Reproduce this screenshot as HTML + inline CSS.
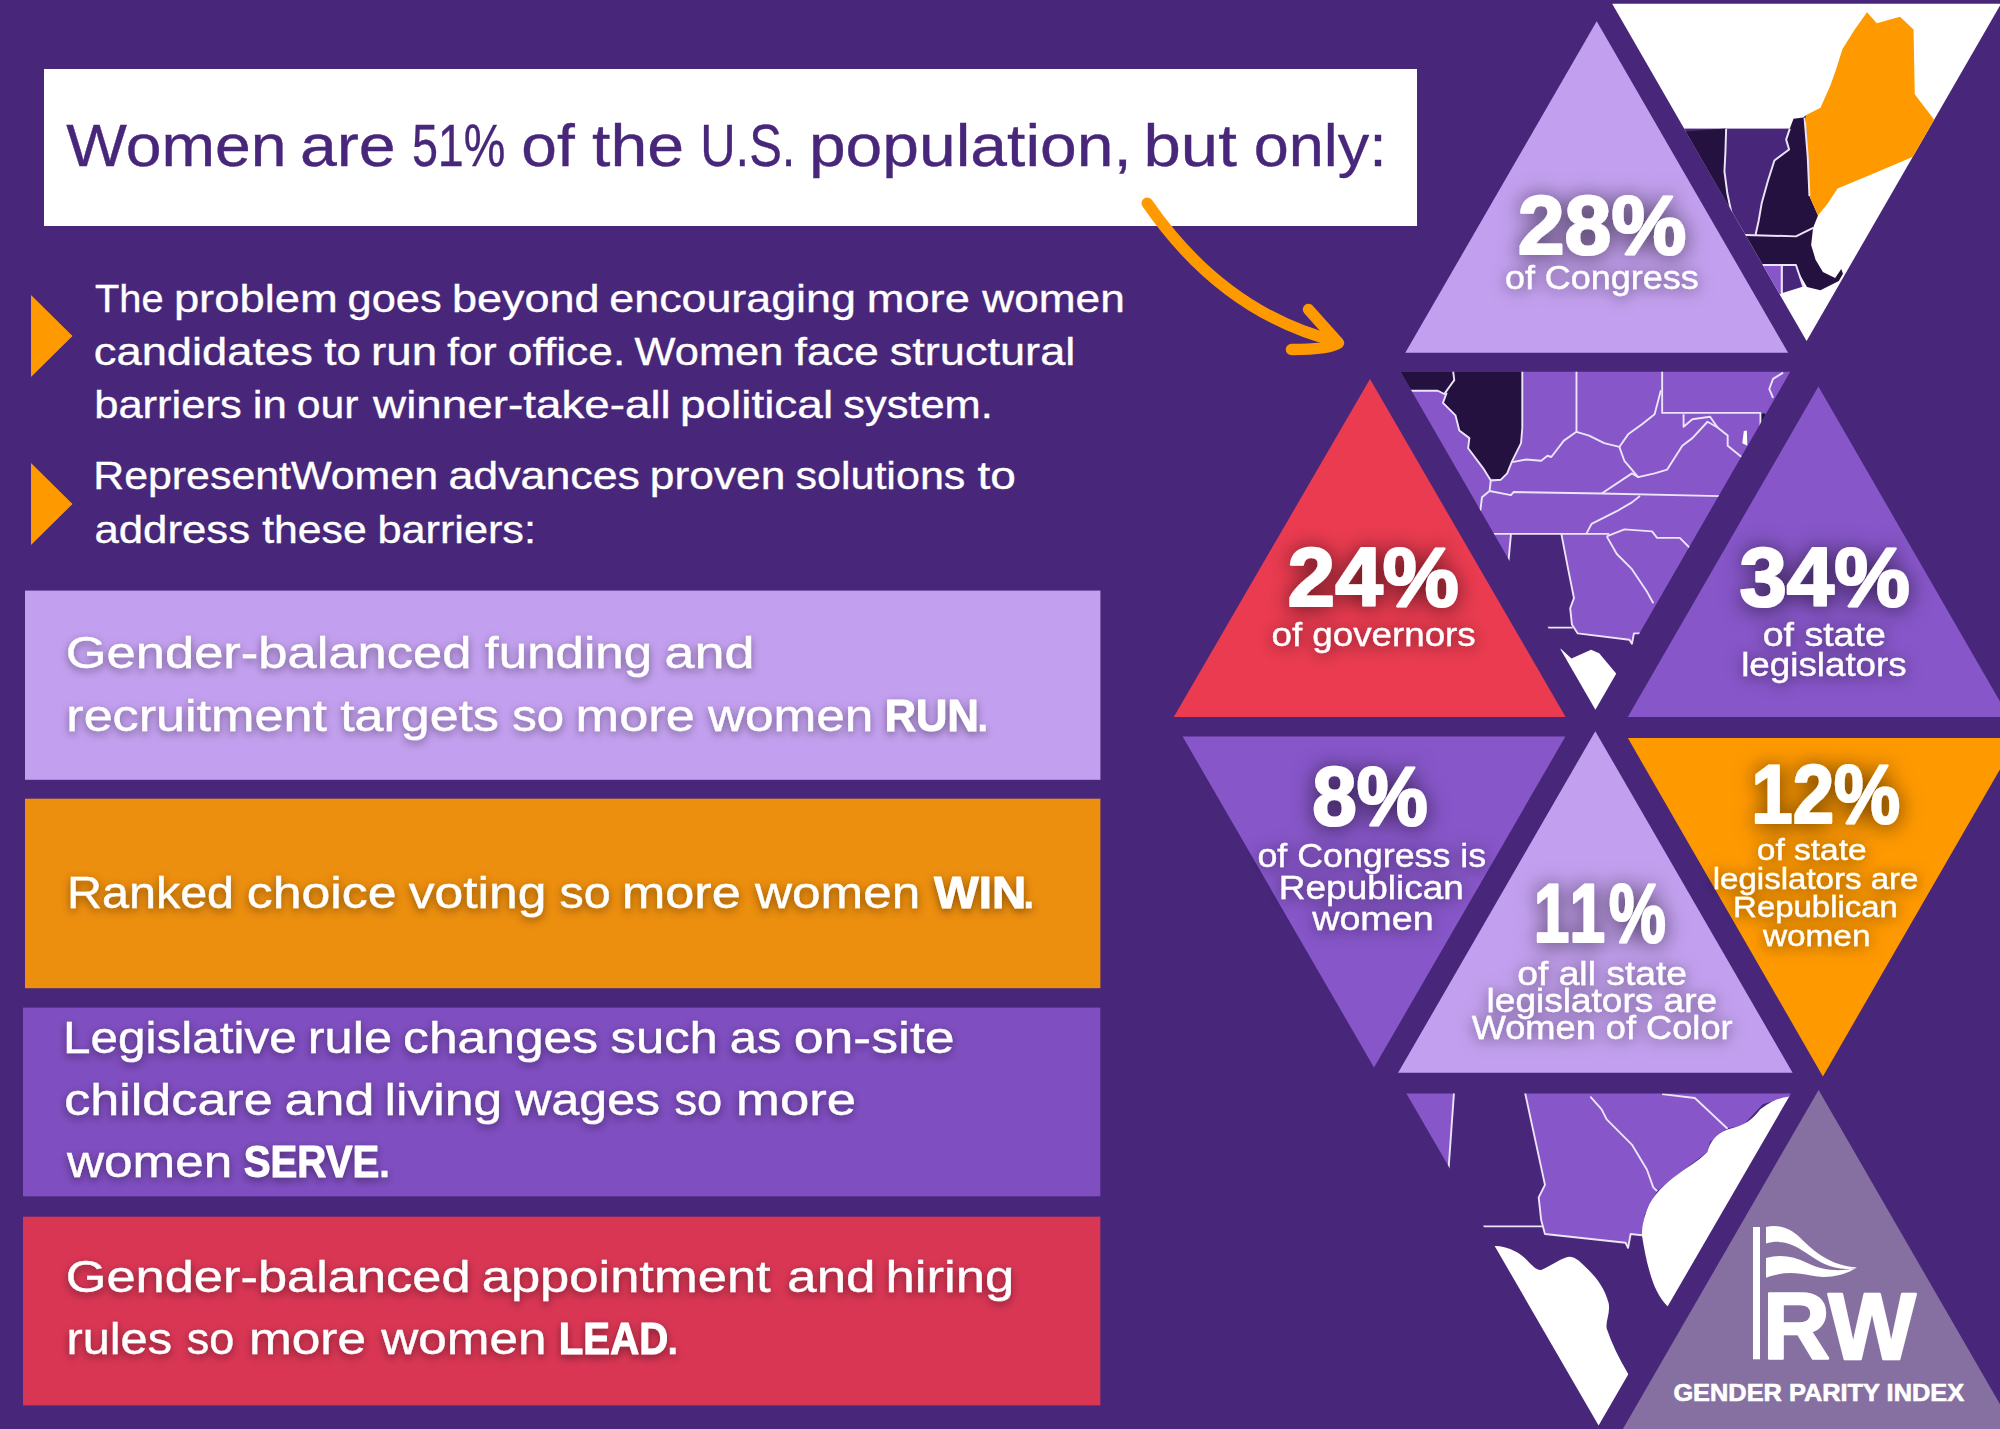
<!DOCTYPE html>
<html lang="en">
<head>
<meta charset="utf-8">
<title>Women are 51% of the U.S. population</title>
<style>
html,body{margin:0;padding:0;background:#48277b;}
body{width:2000px;height:1429px;overflow:hidden;}
svg{display:block;}
text{font-family:"Liberation Sans",sans-serif;color:#fff;fill:currentColor;stroke:currentColor;stroke-width:.35px;}
#title text{color:#48277b;}
.b{font-weight:bold;stroke:currentColor;stroke-linejoin:round;}
.n text{stroke-width:2.2px;}
.w{stroke-width:1;}
</style>
</head>
<body>
<svg width="2000" height="1429" viewBox="0 0 2000 1429">
<defs>
<filter id="sh" x="-5%" y="-30%" width="110%" height="170%"><feDropShadow dx="0" dy="3" stdDeviation="4.2" flood-color="#000" flood-opacity=".42"/></filter>
<filter id="glow" x="-25%" y="-40%" width="150%" height="190%"><feDropShadow dx="0" dy="2" stdDeviation="11" flood-color="#000" flood-opacity=".66"/></filter>
<filter id="glow2" x="-15%" y="-40%" width="130%" height="190%"><feDropShadow dx="0" dy="2" stdDeviation="8" flood-color="#000" flood-opacity=".55"/></filter>
<clipPath id="cTop"><polygon points="1612.2,3.7 2001,3.7 1806.6,341"/></clipPath>
<clipPath id="cMid"><polygon points="1400.6,371.8 1790.2,371.8 1595.4,709.8"/></clipPath>
<clipPath id="cBot"><polygon points="1406.4,1093.4 1791,1093.4 1598.6,1425.6"/></clipPath>
</defs>
<rect width="2000" height="1429" fill="#48277b"/>

<!-- title -->
<rect x="44" y="69" width="1373" height="157" fill="#fff"/>
<g id="title" font-size="59">
<text id="t1" x="66.2" y="165.6" textLength="220.2" lengthAdjust="spacingAndGlyphs">Women</text>
<text id="t2" x="299.9" y="165.6" textLength="95.8" lengthAdjust="spacingAndGlyphs">are</text>
<text id="t3" x="411.9" y="165.6" textLength="93.5" lengthAdjust="spacingAndGlyphs">51%</text>
<text id="t4" x="521.3" y="165.6" textLength="53.4" lengthAdjust="spacingAndGlyphs">of</text>
<text id="t5" x="592.1" y="165.6" textLength="92.0" lengthAdjust="spacingAndGlyphs">the</text>
<text id="t6" x="700.2" y="165.6" textLength="95.2" lengthAdjust="spacingAndGlyphs">U.S.</text>
<text id="t7" x="808.9" y="165.6" textLength="322.9" lengthAdjust="spacingAndGlyphs">population,</text>
<text id="t8" x="1143.5" y="165.6" textLength="93.3" lengthAdjust="spacingAndGlyphs">but</text>
<text id="t9" x="1253.7" y="165.6" textLength="133.0" lengthAdjust="spacingAndGlyphs">only:</text>
</g>

<!-- arrow -->
<g fill="none" stroke="#ff9900" stroke-width="11.5" stroke-linecap="round" stroke-linejoin="round">
<path d="M1147.3,203.3 Q1223.3,313.3 1337,341.5"/>
<path d="M1308.5,309.5 L1338.5,343 Q1330,349.5 1291.5,349.5"/>
</g>

<!-- bullets -->
<polygon points="31,295 72.5,336 31,377" fill="#ff9900"/>
<polygon points="31,463 72.5,504 31,545" fill="#ff9900"/>
<g font-size="39.7">
<text id="p1l1w1" x="95.0" y="312" textLength="68.5" lengthAdjust="spacingAndGlyphs">The</text>
<text id="p1l1w2" x="173.9" y="312" textLength="163.9" lengthAdjust="spacingAndGlyphs">problem</text>
<text id="p1l1w3" x="347.6" y="312" textLength="94.1" lengthAdjust="spacingAndGlyphs">goes</text>
<text id="p1l1w4" x="451.9" y="312" textLength="147.6" lengthAdjust="spacingAndGlyphs">beyond</text>
<text id="p1l1w5" x="609.3" y="312" textLength="246.6" lengthAdjust="spacingAndGlyphs">encouraging</text>
<text id="p1l1w6" x="866.8" y="312" textLength="103.0" lengthAdjust="spacingAndGlyphs">more</text>
<text id="p1l1w7" x="982.2" y="312" textLength="142.6" lengthAdjust="spacingAndGlyphs">women</text>
<text id="p1l2w1" x="93.8" y="364.8" textLength="219.1" lengthAdjust="spacingAndGlyphs">candidates</text>
<text id="p1l2w2" x="324.3" y="364.8" textLength="36.7" lengthAdjust="spacingAndGlyphs">to</text>
<text id="p1l2w3" x="371.1" y="364.8" textLength="66.0" lengthAdjust="spacingAndGlyphs">run</text>
<text id="p1l2w4" x="447.3" y="364.8" textLength="49.3" lengthAdjust="spacingAndGlyphs">for</text>
<text id="p1l2w5" x="507.8" y="364.8" textLength="117.4" lengthAdjust="spacingAndGlyphs">office.</text>
<text id="p1l2w6" x="634.6" y="364.8" textLength="148.8" lengthAdjust="spacingAndGlyphs">Women</text>
<text id="p1l2w7" x="794.5" y="364.8" textLength="84.4" lengthAdjust="spacingAndGlyphs">face</text>
<text id="p1l2w8" x="889.7" y="364.8" textLength="185.6" lengthAdjust="spacingAndGlyphs">structural</text>
<text id="p1l3w1" x="94.2" y="417.7" textLength="147.6" lengthAdjust="spacingAndGlyphs">barriers</text>
<text id="p1l3w2" x="252.7" y="417.7" textLength="34.1" lengthAdjust="spacingAndGlyphs">in</text>
<text id="p1l3w3" x="296.7" y="417.7" textLength="61.7" lengthAdjust="spacingAndGlyphs">our</text>
<text id="p1l3w4" x="373.1" y="417.7" textLength="297.7" lengthAdjust="spacingAndGlyphs">winner-take-all</text>
<text id="p1l3w5" x="679.9" y="417.7" textLength="153.2" lengthAdjust="spacingAndGlyphs">political</text>
<text id="p1l3w6" x="843.2" y="417.7" textLength="149.7" lengthAdjust="spacingAndGlyphs">system.</text>
<text id="p2l1w1" x="93.2" y="489" textLength="344.8" lengthAdjust="spacingAndGlyphs">RepresentWomen</text>
<text id="p2l1w2" x="448.4" y="489" textLength="191.6" lengthAdjust="spacingAndGlyphs">advances</text>
<text id="p2l1w3" x="649.8" y="489" textLength="135.6" lengthAdjust="spacingAndGlyphs">proven</text>
<text id="p2l1w4" x="795.4" y="489" textLength="170.0" lengthAdjust="spacingAndGlyphs">solutions</text>
<text id="p2l1w5" x="977.5" y="489" textLength="38.4" lengthAdjust="spacingAndGlyphs">to</text>
<text id="p2l2w1" x="94.4" y="542.8" textLength="155.7" lengthAdjust="spacingAndGlyphs">address</text>
<text id="p2l2w2" x="262.2" y="542.8" textLength="104.6" lengthAdjust="spacingAndGlyphs">these</text>
<text id="p2l2w3" x="377.4" y="542.8" textLength="158.6" lengthAdjust="spacingAndGlyphs">barriers:</text>
</g>

<!-- boxes -->
<rect x="25" y="590.6" width="1075.4" height="189.2" fill="#c3a0ef"/>
<rect x="25" y="798.7" width="1075.4" height="189.5" fill="#ec8e0e"/>
<rect x="23" y="1007.6" width="1077.3" height="188.7" fill="#7f4ec0"/>
<rect x="23" y="1216.7" width="1077.3" height="188.7" fill="#d93654"/>

<g font-size="45" filter="url(#sh)">
<text id="b1l1w1" x="65.7" y="668.2" textLength="405.8" lengthAdjust="spacingAndGlyphs">Gender-balanced</text>
<text id="b1l1w2" x="484.6" y="668.2" textLength="167.5" lengthAdjust="spacingAndGlyphs">funding</text>
<text id="b1l1w3" x="664.6" y="668.2" textLength="90.0" lengthAdjust="spacingAndGlyphs">and</text>
<text id="b1l2w1" x="66.3" y="730.5" textLength="260.6" lengthAdjust="spacingAndGlyphs">recruitment</text>
<text id="b1l2w2" x="340.2" y="730.5" textLength="158.8" lengthAdjust="spacingAndGlyphs">targets</text>
<text id="b1l2w3" x="512.3" y="730.5" textLength="51.9" lengthAdjust="spacingAndGlyphs">so</text>
<text id="b1l2w4" x="575.6" y="730.5" textLength="119.2" lengthAdjust="spacingAndGlyphs">more</text>
<text id="b1l2w5" x="707.9" y="730.5" textLength="165.4" lengthAdjust="spacingAndGlyphs">women</text>
<text id="b1l2w6" class="b w" x="884.8" y="730.5" textLength="93.9" lengthAdjust="spacingAndGlyphs">RUN</text>
<text id="b1l2w7" font-size="56" x="975.0" y="730.5">.</text>
<text id="b2l1w1" x="66.9" y="907.5" textLength="167.2" lengthAdjust="spacingAndGlyphs">Ranked</text>
<text id="b2l1w2" x="246.8" y="907.5" textLength="149.7" lengthAdjust="spacingAndGlyphs">choice</text>
<text id="b2l1w3" x="408.7" y="907.5" textLength="137.7" lengthAdjust="spacingAndGlyphs">voting</text>
<text id="b2l1w4" x="559.6" y="907.5" textLength="51.2" lengthAdjust="spacingAndGlyphs">so</text>
<text id="b2l1w5" x="621.7" y="907.5" textLength="119.2" lengthAdjust="spacingAndGlyphs">more</text>
<text id="b2l1w6" x="755.0" y="907.5" textLength="165.2" lengthAdjust="spacingAndGlyphs">women</text>
<text id="b2l1w7" class="b w" x="934.0" y="907.5" textLength="92.3" lengthAdjust="spacingAndGlyphs">WIN</text>
<text id="b2l1w8" font-size="56" x="1021.0" y="907.5">.</text>
<text id="b3l1w1" x="63.1" y="1053" textLength="233.6" lengthAdjust="spacingAndGlyphs">Legislative</text>
<text id="b3l1w2" x="307.8" y="1053" textLength="84.2" lengthAdjust="spacingAndGlyphs">rule</text>
<text id="b3l1w3" x="403.1" y="1053" textLength="195.0" lengthAdjust="spacingAndGlyphs">changes</text>
<text id="b3l1w4" x="610.5" y="1053" textLength="107.4" lengthAdjust="spacingAndGlyphs">such</text>
<text id="b3l1w5" x="729.8" y="1053" textLength="51.7" lengthAdjust="spacingAndGlyphs">as</text>
<text id="b3l1w6" x="793.7" y="1053" textLength="161.0" lengthAdjust="spacingAndGlyphs">on-site</text>
<text id="b3l2w1" x="64.2" y="1115" textLength="208.5" lengthAdjust="spacingAndGlyphs">childcare</text>
<text id="b3l2w2" x="284.5" y="1115" textLength="90.0" lengthAdjust="spacingAndGlyphs">and</text>
<text id="b3l2w3" x="384.4" y="1115" textLength="117.9" lengthAdjust="spacingAndGlyphs">living</text>
<text id="b3l2w4" x="515.2" y="1115" textLength="144.9" lengthAdjust="spacingAndGlyphs">wages</text>
<text id="b3l2w5" x="674.5" y="1115" textLength="47.7" lengthAdjust="spacingAndGlyphs">so</text>
<text id="b3l2w6" x="736.1" y="1115" textLength="120.0" lengthAdjust="spacingAndGlyphs">more</text>
<text id="b3l3w1" x="67.1" y="1177.3" textLength="165.2" lengthAdjust="spacingAndGlyphs">women</text>
<text id="b3l3w2" class="b w" x="243.7" y="1177.3" textLength="135.6" lengthAdjust="spacingAndGlyphs">SERVE</text>
<text id="b3l3w3" font-size="56" x="376.7" y="1177.3">.</text>
<text id="b4l1w1" x="65.7" y="1292.2" textLength="404.9" lengthAdjust="spacingAndGlyphs">Gender-balanced</text>
<text id="b4l1w2" x="481.7" y="1292.2" textLength="289.0" lengthAdjust="spacingAndGlyphs">appointment</text>
<text id="b4l1w3" x="787.3" y="1292.2" textLength="88.2" lengthAdjust="spacingAndGlyphs">and</text>
<text id="b4l1w4" x="885.5" y="1292.2" textLength="128.9" lengthAdjust="spacingAndGlyphs">hiring</text>
<text id="b4l2w1" x="66.4" y="1354" textLength="105.7" lengthAdjust="spacingAndGlyphs">rules</text>
<text id="b4l2w2" x="186.8" y="1354" textLength="47.5" lengthAdjust="spacingAndGlyphs">so</text>
<text id="b4l2w3" x="248.9" y="1354" textLength="117.1" lengthAdjust="spacingAndGlyphs">more</text>
<text id="b4l2w4" x="381.3" y="1354" textLength="165.2" lengthAdjust="spacingAndGlyphs">women</text>
<text id="b4l2w5" class="b w" x="558.8" y="1354" textLength="109.4" lengthAdjust="spacingAndGlyphs">LEAD</text>
<text id="b4l2w6" font-size="56" x="665.0" y="1354">.</text>
</g>

<!-- triangles -->
<polygon points="1596.7,21.3 1405.3,352.8 1788.1,352.8" fill="#c3a0ef"/>
<polygon points="1370,379 1173.8,717 1565.6,717" fill="#eb3b50"/>
<polygon points="1818.4,386.6 1627.8,717 2009,717" fill="#8756c9"/>
<polygon points="1182.6,736.5 1565.4,736.5 1374,1067.5" fill="#8756c9"/>
<polygon points="1595.3,731.2 1398.1,1072.8 1792.6,1072.8" fill="#c3a0ef"/>
<polygon points="1627.9,738.1 2018,738.1 1822.9,1076.4" fill="#ff9900"/>
<polygon points="1818.6,1090 1622.9,1429 2014.3,1429" fill="#8670a1"/>

<!-- map triangle: New England -->
<g clip-path="url(#cTop)">
<rect x="1600" y="0" width="402" height="350" fill="#fff"/>
<g transform="translate(1600,0) scale(0.24495)" stroke-linejoin="round">
<rect x="300" y="525" width="500" height="435" fill="#48277b"/>
<polygon fill="#25113f" points="200,548 515,525 512,620 508,700 520,790 537,870 560,958 200,958"/>
<polygon fill="#25113f" points="790,485 830,480 840,470 848,640 855,800 890,880 870,930 800,965 640,958 648,900 660,830 685,740 712,655 772,610 760,570 775,525"/>
<polygon fill="#25113f" points="400,955 800,965 870,930 862,1000 880,1060 910,1110 960,1135 985,1098 992,1118 975,1147 900,1185 845,1172 815,1120 800,1082 400,1078"/>
<polygon fill="#8756c9" points="500,1085 740,1085 740,1200 500,1200"/>
<polygon fill="#48277b" points="745,1085 800,1085 830,1170 745,1196"/>
<polygon fill="#ff9900" points="840,470 900,440 940,350 965,280 990,200 1040,120 1090,50 1130,95 1225,68 1280,120 1285,385 1365,490 1420,560 1290,635 1100,715 970,770 930,830 890,880 855,800 848,640"/>
<g fill="none" stroke="#ece4f8" stroke-width="8">
<polyline points="515,525 512,620 508,700 520,790 537,870 550,940"/>
<polyline points="775,525 760,570 772,610 712,655 685,740 660,830 648,900 635,958"/>
<polyline points="560,958 800,965 870,930"/>
<polyline points="835,480 848,640 855,800"/>
<polyline points="742,1085 742,1198"/>
<polyline points="640,1082 800,1082 830,1170"/>
</g>
</g>
</g>

<!-- map triangle: Midwest / South -->
<g clip-path="url(#cMid)">
<rect x="1390" y="360" width="410" height="360" fill="#48277b"/>
<g transform="translate(1390,360) scale(0.252)" stroke-linejoin="round">
<polygon fill="#8756c9" points="0,30 1700,30 1700,1085 968,1085 960,1126 950,1110 745,1085 722,1050 715,985 730,945 705,820 680,690 480,690 470,800 0,800"/>
<polygon fill="#25113f" points="0,40 250,40 255,80 215,135 190,122 0,122"/>
<polygon fill="#25113f" points="250,40 525,40 525,270 520,330 485,400 465,450 440,475 395,470 370,430 310,350 315,310 275,280 260,220 210,170 225,130 255,80"/>

<polygon fill="#fff" points="600,1110 680,1148 720,1185 798,1150 830,1164 900,1247 900,1420 600,1420"/>
<polygon fill="#fff" points="1404,282 1416,280 1418,340 1398,330"/>
<polygon fill="#25113f" points="1468,212 1490,212 1490,270 1468,262"/>
<g fill="none" stroke="#ece4f8" stroke-width="7.5">
<polyline points="250,40 255,80 215,135 190,122 80,122"/>
<polyline points="225,130 210,170 260,220 275,280 315,310 310,350 370,430 395,470 400,478 395,520 365,545 358,600"/>
<polyline points="525,40 525,270 520,330 485,400 465,450 440,475 400,478"/>
<polyline points="740,40 740,285"/>
<polyline points="485,405 540,395 600,400 625,380 640,385 690,320 740,285 790,300 850,330 910,345 945,295 1000,255 1050,215 1075,120"/>
<polyline points="1080,40 1080,210 1470,210 1470,262"/>
<polyline points="910,345 930,400 985,465 1050,450 1100,435 1160,340 1200,310 1260,245 1300,268 1340,300 1340,340 1395,385"/>
<polyline points="1165,215 1165,265 1200,235 1270,225 1300,268"/>
<polyline points="395,520 480,536 490,524 840,530 1310,540"/>
<polyline points="840,530 960,450 985,465"/>
<polyline points="410,690 870,690"/>
<polyline points="780,688 800,650 900,600 960,565 992,540"/>
<polyline points="860,700 930,672 1040,680 1060,706 1150,706 1190,746"/>
<polyline points="860,700 900,770 960,830 1020,920 1045,965"/>
<polyline points="680,690 705,820 730,945 715,985 722,1050 745,1085 950,1110 960,1126 968,1085 995,1085"/>
<polyline points="625,1062 725,1062"/>
<polyline points="480,690 470,800"/>
<polyline points="1560,50 1520,75 1505,115 1520,150"/>
</g>
</g>
</g>

<!-- map triangle: Southeast -->
<g clip-path="url(#cBot)">
<rect x="1400" y="1090" width="400" height="340" fill="#48277b"/>
<g transform="translate(1380,1069) scale(0.25186)" stroke-linejoin="round">
<polygon fill="#8756c9" points="0,90 292,90 272,400 0,400"/>
<polygon fill="#8756c9" points="575,90 1700,90 1620,110 1520,140 1440,225 1380,235 1310,290 1300,330 1180,420 1100,485 1050,580 1040,660 995,655 985,710 975,690 655,655 640,600 630,510 655,460"/>
<path fill="#fff" d="M1700,90 L1620,110 C1560,120 1540,140 1510,160 C1480,200 1450,225 1380,240 C1330,260 1310,290 1300,330 C1260,370 1220,390 1180,420 C1140,450 1080,500 1060,560 C1045,600 1040,630 1040,660 C1050,720 1060,780 1085,850 C1100,890 1120,920 1140,940 L1200,1000 L1800,1000 L1800,90 Z"/>
<path fill="#fff" d="M300,700 L460,703 C500,705 540,720 575,750 C600,775 620,800 640,798 C680,780 720,750 750,745 C780,745 800,770 830,800 C870,840 895,880 908,930 C915,970 895,1000 900,1030 C920,1090 950,1150 985,1210 L985,1500 L300,1500 Z"/>
<g fill="none" stroke="#ece4f8" stroke-width="7.5">
<polyline points="294,90 272,400"/>
<polyline points="575,90 655,460 630,510 640,600 655,655 975,690 985,710 995,655 1040,660"/>
<polyline points="410,625 645,625"/>
<polyline points="835,110 880,160 900,200 1000,300 1060,400 1085,470 1100,485"/>
<polyline points="1120,100 1250,115 1380,237"/>
</g>
</g>
</g>

<!-- numbers -->
<g class="b n" font-size="82.5" filter="url(#glow)">
<text id="n28" x="1517.8" y="253.9" textLength="168.4" lengthAdjust="spacingAndGlyphs">28%</text>
<text id="n24" x="1287.6" y="606.4" textLength="171.2" lengthAdjust="spacingAndGlyphs">24%</text>
<text id="n34" x="1739.4" y="606.4" textLength="170.5" lengthAdjust="spacingAndGlyphs">34%</text>
<text id="n8" x="1312.2" y="824.7" textLength="115.5" lengthAdjust="spacingAndGlyphs">8%</text>
<text id="n11" letter-spacing="5" x="1533.7" y="942.0" textLength="136.1" lengthAdjust="spacingAndGlyphs">11%</text>
<text id="n12" x="1751.3" y="822.9" textLength="148.9" lengthAdjust="spacingAndGlyphs">12%</text>
</g>
<g font-size="33.5" filter="url(#glow2)">
<text id="s28" x="1504.9" y="289" textLength="193.9" lengthAdjust="spacingAndGlyphs">of Congress</text>
<text id="s24" x="1271.5" y="645.8" textLength="204.2" lengthAdjust="spacingAndGlyphs">of governors</text>
<text id="s34a" x="1762.7" y="645.8" textLength="123.1" lengthAdjust="spacingAndGlyphs">of state</text>
<text id="s34b" x="1741.2" y="676.4" textLength="165.5" lengthAdjust="spacingAndGlyphs">legislators</text>
<text id="s8a" x="1257.4" y="867" textLength="228.8" lengthAdjust="spacingAndGlyphs">of Congress is</text>
<text id="s8b" x="1278.8" y="898.7" textLength="185.1" lengthAdjust="spacingAndGlyphs">Republican</text>
<text id="s8c" x="1312.2" y="930" textLength="121.4" lengthAdjust="spacingAndGlyphs">women</text>
</g>
<g font-size="32.5" filter="url(#glow2)">
<text id="s11a" x="1517.2" y="984.5" textLength="169.9" lengthAdjust="spacingAndGlyphs">of all state</text>
<text id="s11b" x="1486.6" y="1011.9" textLength="230.5" lengthAdjust="spacingAndGlyphs">legislators are</text>
<text id="s11c" x="1471.7" y="1039" textLength="260.9" lengthAdjust="spacingAndGlyphs">Women of Color</text>
</g>
<g font-size="29.5" filter="url(#glow2)">
<text id="s12a" x="1756.8" y="859.6" textLength="109.9" lengthAdjust="spacingAndGlyphs">of state</text>
<text id="s12b" x="1712.7" y="888.9" textLength="205.8" lengthAdjust="spacingAndGlyphs">legislators are</text>
<text id="s12c" x="1733.1" y="917.3" textLength="164.8" lengthAdjust="spacingAndGlyphs">Republican</text>
<text id="s12d" x="1762.9" y="945.5" textLength="107.6" lengthAdjust="spacingAndGlyphs">women</text>
</g>

<!-- RW logo -->
<g id="logo">
<rect x="1753" y="1227" width="7" height="132.3" fill="#fff"/>
<g transform="translate(1640,1200) scale(0.18)" fill="#fff">
<path d="M700,150 C760,135 830,150 890,210 C970,290 1060,365 1205,375 C1100,405 1000,350 920,292 C850,242 780,218 700,242 Z"/>
<path d="M700,322 C780,300 850,310 930,350 C1020,395 1120,400 1205,375 C1150,412 1050,442 950,420 C860,400 780,400 700,432 Z"/>
</g>
<text id="rw" class="b" style="stroke-width:2.5" x="1762.9" y="1359.3" font-size="95" textLength="152.9" lengthAdjust="spacingAndGlyphs">RW</text>
<text id="gpi" class="b" style="stroke-width:.6" x="1673.4" y="1401" font-size="23" textLength="290.7" lengthAdjust="spacingAndGlyphs">GENDER PARITY INDEX</text>
</g>
</svg>
</body>
</html>
